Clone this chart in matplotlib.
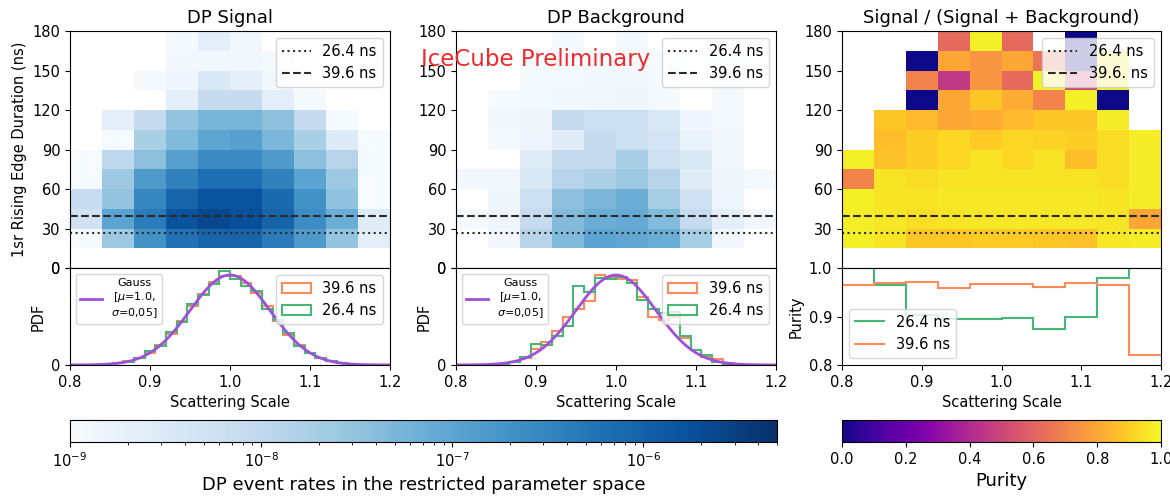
import numpy as np
import matplotlib
matplotlib.use("Agg")
import matplotlib.pyplot as plt
from matplotlib.colors import LogNorm, Normalize

nan = np.nan

# heatmap binning (scattering scale x rising edge duration)
x_edges = np.linspace(0.8, 1.2, 11)
y_edges = np.arange(15, 181, 15)

# log10 of DP event rates, rows listed from top (165-180 ns) to bottom (15-30 ns)
signal_log10 = [
    [nan, nan, nan, -8.93, -8.63, -8.89, nan, nan, nan, nan],
    [nan, nan, nan, -8.89, -8.89, -8.89, -8.93, nan, nan, nan],
    [nan, nan, -8.93, -8.82, -8.45, -8.63, -8.89, nan, nan, nan],
    [nan, nan, nan, -8.63, -8.08, -8.08, -8.63, -8.93, nan, nan],
    [nan, -8.63, -8.08, -7.52, -7.26, -7.26, -7.45, -8.08, -8.96, nan],
    [nan, -8.96, -7.74, -7.34, -7.00, -6.93, -7.30, -7.74, -8.52, -8.96],
    [-8.96, -7.96, -7.45, -6.93, -6.60, -6.60, -6.82, -7.45, -7.89, -8.96],
    [-8.96, -7.59, -6.82, -6.45, -6.19, -6.19, -6.45, -6.97, -7.59, -8.96],
    [-8.11, -7.52, -6.52, -6.04, -5.78, -5.78, -6.11, -6.69, -7.48, -8.96],
    [-8.26, -6.97, -6.37, -5.82, -5.63, -5.76, -6.04, -6.63, -7.15, -8.56],
    [-8.96, -7.59, -6.69, -6.23, -6.04, -6.04, -6.37, -6.82, -7.52, -8.63],
]
background_log10 = [
    [nan, nan, nan, -8.93, nan, -8.93, nan, nan, nan, nan],
    [nan, nan, -8.96, -8.93, -8.93, -8.93, -8.93, nan, -8.90, nan],
    [nan, nan, -8.93, -8.93, -8.90, -8.90, -8.93, nan, -8.89, nan],
    [nan, -8.96, -8.93, -8.89, -8.89, -8.85, -8.93, nan, -8.93, nan],
    [nan, -8.89, -8.85, -8.08, -8.19, -8.19, -8.45, -8.82, -8.93, nan],
    [nan, -8.93, -8.82, -8.56, -8.08, -8.19, -8.34, -8.74, -8.89, nan],
    [nan, nan, -8.56, -8.08, -8.08, -7.71, -8.26, -8.45, -8.89, nan],
    [-8.89, -8.89, -8.45, -7.89, -7.78, -7.59, -7.89, -8.56, -8.85, -8.93],
    [nan, -8.85, -8.19, -7.45, -7.30, -7.15, -7.71, -8.26, -8.82, nan],
    [-8.93, -8.82, -8.08, -7.34, -7.15, -7.08, -7.34, -8.08, -8.63, -8.89],
    [nan, -8.89, -7.89, -7.34, -6.97, -7.04, -7.15, -7.71, -8.89, nan],
]
purity_map = [
    [nan, nan, nan, 0.62, 0.98, 0.62, nan, 0.0, nan, nan],
    [nan, nan, 0.0, 0.80, 0.75, 0.80, 0.65, 0.0, 0.98, nan],
    [nan, nan, 0.70, 0.45, 0.75, 0.62, 0.98, 0.50, 0.98, nan],
    [nan, nan, 0.0, 0.80, 0.88, 0.82, 0.70, 0.98, 0.0, nan],
    [nan, 0.88, 0.85, 0.80, 0.81, 0.85, 0.88, 0.88, 0.97, nan],
    [nan, 0.86, 0.90, 0.92, 0.89, 0.92, 0.91, 0.90, 0.93, 0.97],
    [0.98, 0.87, 0.90, 0.92, 0.95, 0.92, 0.95, 0.86, 0.93, 0.97],
    [0.70, 0.95, 0.93, 0.95, 0.95, 0.95, 0.95, 0.95, 0.93, 0.97],
    [0.98, 0.95, 0.95, 0.96, 0.96, 0.96, 0.96, 0.96, 0.95, 0.97],
    [0.97, 0.96, 0.94, 0.95, 0.96, 0.96, 0.96, 0.96, 0.95, 0.80],
    [0.98, 0.95, 0.88, 0.88, 0.89, 0.89, 0.88, 0.87, 0.96, 0.97],
]

# scattering scale PDFs for the two cuts
hist_edges = np.linspace(0.8, 1.2, 31)
sig_396 = [0, 0, 0, 0.05, 0.17, 0.33, 0.63, 1.05, 1.8, 2.75, 3.9, 5.2, 6.3, 7.4, 7.9,
           7.9, 7.3, 6.4, 5.2, 3.9, 2.7, 1.8, 1.1, 0.6, 0.32, 0.15, 0.07, 0.03, 0.01, 0]
sig_264 = [0, 0, 0, 0.08, 0.2, 0.3, 0.6, 1.2, 1.7, 2.9, 3.8, 5.4, 6.2, 7.2, 8.3,
           7.6, 7.0, 6.6, 5.0, 4.0, 2.8, 1.7, 1.1, 0.6, 0.35, 0.17, 0.08, 0.04, 0.02, 0.01]
bkg_396 = [0, 0, 0, 0.03, 0.08, 0.25, 0.6, 1.4, 2.0, 3.0, 4.3, 5.0, 5.7, 8.0, 7.8,
           7.6, 7.5, 6.0, 4.3, 4.0, 4.3, 2.4, 1.3, 0.7, 0.5, 0.2, 0.05, 0.02, 0, 0]
bkg_264 = [0, 0, 0, 0.05, 0.1, 0.3, 0.7, 1.9, 1.8, 2.6, 3.5, 7.0, 6.5, 7.7, 7.6,
           7.8, 7.3, 5.8, 5.0, 4.6, 4.7, 2.6, 1.3, 0.9, 0.3, 0.05, 0, 0, 0, 0]
gauss_mu, gauss_sigma = 1.0, 0.05

# purity vs scattering scale
purity_edges = np.linspace(0.8, 1.2, 11)
purity_264 = [1.0, 0.965, 0.903, 0.894, 0.894, 0.896, 0.874, 0.90, 0.98, 1.0]
purity_396 = [0.965, 0.969, 0.972, 0.959, 0.967, 0.967, 0.961, 0.969, 0.965, 0.82]

cut_264, cut_396 = 26.4, 39.6

c_orange = "#fc8a5a"
c_green = "#45b877"
c_purple = "#a04fd8"
c_line = "#2b2b2b"
fs = 10.5

W, H = 1170, 498
fig = plt.figure(figsize=(W / 100, H / 100), dpi=100)


def px_axes(l, t, r, b):
    return fig.add_axes([l / W, 1 - b / H, (r - l) / W, (b - t) / H])


lefts = [70, 456, 842]
rights = [390, 776, 1161]
heat_axes = [px_axes(l, 31, r, 268) for l, r in zip(lefts, rights)]
low_axes = [px_axes(l, 268, r, 365) for l, r in zip(lefts, rights)]

norm = LogNorm(vmin=1e-9, vmax=5e-6)
maps = [10 ** np.array(signal_log10)[::-1], 10 ** np.array(background_log10)[::-1],
        np.array(purity_map)[::-1]]
titles = ["DP Signal", "DP Background", "Signal / (Signal + Background)"]
dash_labels = ["39.6 ns", "39.6 ns", "39.6. ns"]
meshes = []
for i, ax in enumerate(heat_axes):
    if i < 2:
        m = ax.pcolormesh(x_edges, y_edges, np.ma.masked_invalid(maps[i]), cmap="Blues", norm=norm)
    else:
        m = ax.pcolormesh(x_edges, y_edges, np.ma.masked_invalid(maps[i]), cmap="plasma",
                          norm=Normalize(0, 1))
    meshes.append(m)
    ax.axhline(cut_264, color=c_line, ls=":", lw=1.5, label="26.4 ns")
    ax.axhline(cut_396, color=c_line, ls="--", lw=1.5, label=dash_labels[i])
    ax.set_xlim(0.8, 1.2)
    ax.set_ylim(0, 180)
    ax.set_xticks([0.8, 0.9, 1.0, 1.1, 1.2])
    ax.tick_params(labelbottom=False, labelsize=fs)
    if i < 2:
        ax.set_yticks(np.arange(0, 181, 30))
    else:
        ax.set_yticks(np.arange(30, 181, 30))
    ax.set_title(titles[i], fontsize=13)
    ax.legend(loc="upper right", fontsize=fs)
heat_axes[0].set_ylabel("1sr Rising Edge Duration (ns)", fontsize=fs)

xs = np.linspace(0.8, 1.2, 400)
gauss = np.exp(-0.5 * ((xs - gauss_mu) / gauss_sigma) ** 2) / (gauss_sigma * np.sqrt(2 * np.pi))
centers = 0.5 * (hist_edges[1:] + hist_edges[:-1])
for ax, h396, h264 in [(low_axes[0], sig_396, sig_264), (low_axes[1], bkg_396, bkg_264)]:
    ax.hist(centers, bins=hist_edges, weights=h396, histtype="step", color=c_orange, lw=1.5,
            label="39.6 ns")
    ax.hist(centers, bins=hist_edges, weights=h264, histtype="step", color=c_green, lw=1.5,
            label="26.4 ns")
    g, = ax.plot(xs, gauss, color=c_purple, lw=2, label="Gauss\n[$\\mu$=1.0,\n$\\sigma$=0,05]")
    ax.set_xlim(0.8, 1.2)
    ax.set_ylim(0, 8.6)
    ax.set_yticks([0, 8.6])
    ax.set_yticklabels(["0", "0"])
    ax.set_xticks([0.8, 0.9, 1.0, 1.1, 1.2])
    ax.tick_params(labelsize=fs)
    ax.set_xlabel("Scattering Scale", fontsize=fs)
    ax.set_ylabel("PDF", fontsize=fs)
    handles, labels = ax.get_legend_handles_labels()
    leg1 = ax.legend([g], [g.get_label()], loc="upper left", fontsize=8)
    for t in leg1.get_texts():
        t.set_multialignment("center")
    ax.add_artist(leg1)
    ax.legend(handles[:2], labels[:2], loc="upper right", fontsize=fs)

ax = low_axes[2]
ax.stairs(purity_264, purity_edges, baseline=None, color=c_green, lw=1.5, label="26.4 ns")
ax.stairs(purity_396, purity_edges, baseline=None, color=c_orange, lw=1.5, label="39.6 ns")
ax.set_xlim(0.8, 1.2)
ax.set_ylim(0.8, 1.0)
ax.set_yticks([0.8, 0.9, 1.0])
ax.set_xticks([0.8, 0.9, 1.0, 1.1, 1.2])
ax.tick_params(labelsize=fs)
ax.set_xlabel("Scattering Scale", fontsize=fs)
ax.set_ylabel("Purity", fontsize=fs)
ax.legend(loc="lower left", fontsize=fs)

fig.text(421 / W, 1 - 66 / H, "IceCube Preliminary", color="#ee2a2a", fontsize=16.5,
         va="baseline", ha="left")

cax1 = px_axes(70, 420, 777, 442)
cb1 = fig.colorbar(meshes[0], cax=cax1, orientation="horizontal")
cb1.set_label("DP event rates in the restricted parameter space", fontsize=13)
cb1.ax.tick_params(labelsize=fs)
cax2 = px_axes(842, 420, 1161, 442)
cb2 = fig.colorbar(meshes[2], cax=cax2, orientation="horizontal")
cb2.set_label("Purity", fontsize=13)
cb2.set_ticks([0.0, 0.2, 0.4, 0.6, 0.8, 1.0])
cb2.ax.tick_params(labelsize=fs)

fig.savefig("out.png", dpi=100)
